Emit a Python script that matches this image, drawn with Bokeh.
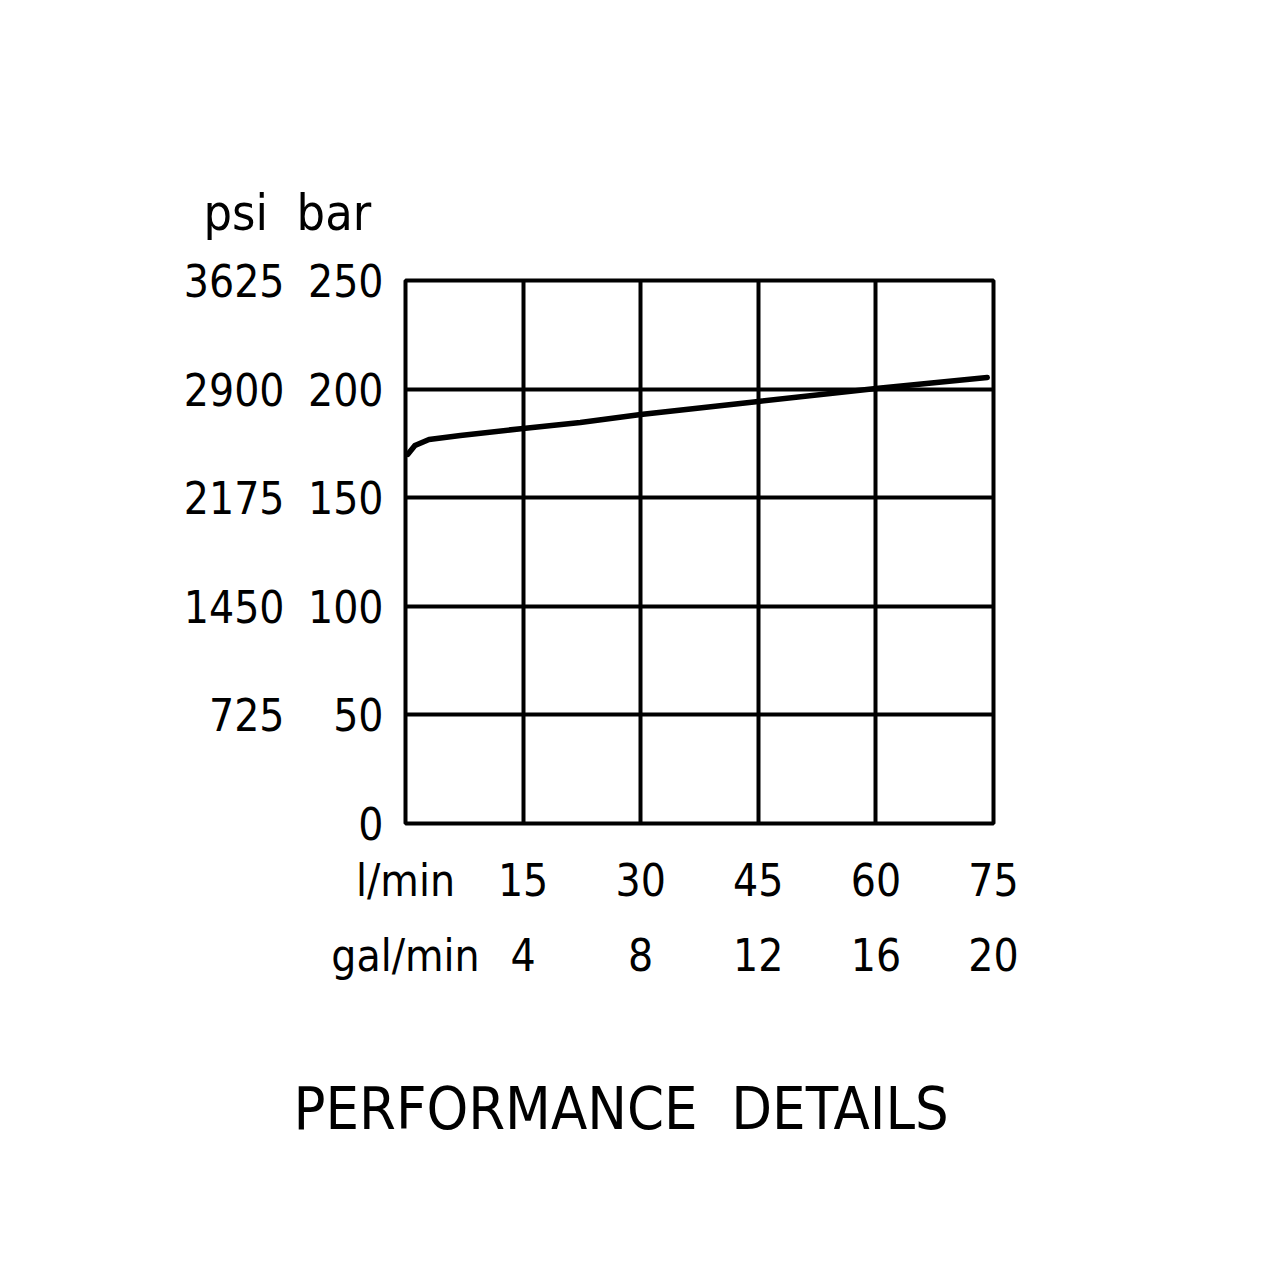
from bokeh.plotting import figure
from bokeh.models import Range1d, LinearAxis, FixedTicker, Title
from bokeh.embed import file_html
from bokeh.resources import INLINE

# ---- data ----
flow_lpm = [0.3, 1.2, 3.0, 7.0, 15.0, 22.3, 30.0, 45.0, 60.0, 74.2]
pressure_bar = [170.0, 174.0, 176.8, 178.6, 181.9, 184.6, 188.3, 194.3, 200.3, 205.3]

bar_ticks = [0, 50, 100, 150, 200, 250]
bar_labels = ["0", "50", "100", "150", "200", "250"]
psi_labels = ["", "725", "1450", "2175", "2900", "3625"]
lpm_ticks = [0, 15, 30, 45, 60, 75]
lpm_labels = ["l/min", "15", "30", "45", "60", "75"]
gpm_labels = ["gal/min", "4", "8", "12", "16", "20"]
unit_header = "psi\u00a0\u00a0bar"
title_text = "PERFORMANCE\u00a0\u00a0DETAILS"

FONT = "DejaVu Sans Condensed, Liberation Sans"
W, H = 1260, 1260
FL, FT, FW, FH = 405, 280, 588, 543

p = figure(width=W, height=H, output_backend="svg", toolbar_location=None,
           x_range=Range1d(0, 75), y_range=Range1d(0, 250),
           min_border_left=FL, min_border_top=FT,
           min_border_right=W - FL - FW, min_border_bottom=H - FT - FH)
p.background_fill_color = "white"
p.border_fill_color = "white"
p.outline_line_color = "black"
p.outline_line_width = 4

def style_axis(ax, ticks, labels, standoff, size="44px"):
    ax.ticker = FixedTicker(ticks=ticks)
    ax.major_label_overrides = {t: l for t, l in zip(ticks, labels)}
    ax.axis_line_color = None
    ax.major_tick_line_color = None
    ax.minor_tick_line_color = None
    ax.major_label_text_font = FONT
    ax.major_label_text_font_size = size
    ax.major_label_text_color = "black"
    ax.major_label_standoff = standoff

# inner axes (figure defaults)
style_axis(p.yaxis[0], bar_ticks, bar_labels, 16)
style_axis(p.xaxis[0], lpm_ticks, lpm_labels, 25)

# outer axes
psi_axis = LinearAxis()
style_axis(psi_axis, bar_ticks, psi_labels, 14)
p.add_layout(psi_axis, "left")
gpm_axis = LinearAxis()
style_axis(gpm_axis, lpm_ticks, gpm_labels, 15)
p.add_layout(gpm_axis, "below")

# grid
p.xgrid.ticker = FixedTicker(ticks=lpm_ticks)
p.ygrid.ticker = FixedTicker(ticks=bar_ticks)
p.xgrid.grid_line_color = "black"
p.ygrid.grid_line_color = "black"
p.xgrid.grid_line_width = 4
p.ygrid.grid_line_width = 4
p.xgrid.grid_line_alpha = 1
p.ygrid.grid_line_alpha = 1

# curve
p.line(flow_lpm, pressure_bar, line_color="black", line_width=5.5,
       line_cap="round", line_join="round")

# unit header (above the frame)
p.title.text = unit_header
p.title.align = "left"
p.title.offset = 203 - FL
p.title.standoff = 77
p.title.text_font = FONT
p.title.text_font_size = "50px"
p.title.text_font_style = "normal"
p.title.text_color = "black"

# chart caption below
p.add_layout(Title(text=title_text, align="left", offset=293 - FL,
                   standoff=177, text_font=FONT, text_font_size="59px",
                   text_font_style="normal", text_color="black"), "below")

open("out.html", "w").write(file_html(p, INLINE))
